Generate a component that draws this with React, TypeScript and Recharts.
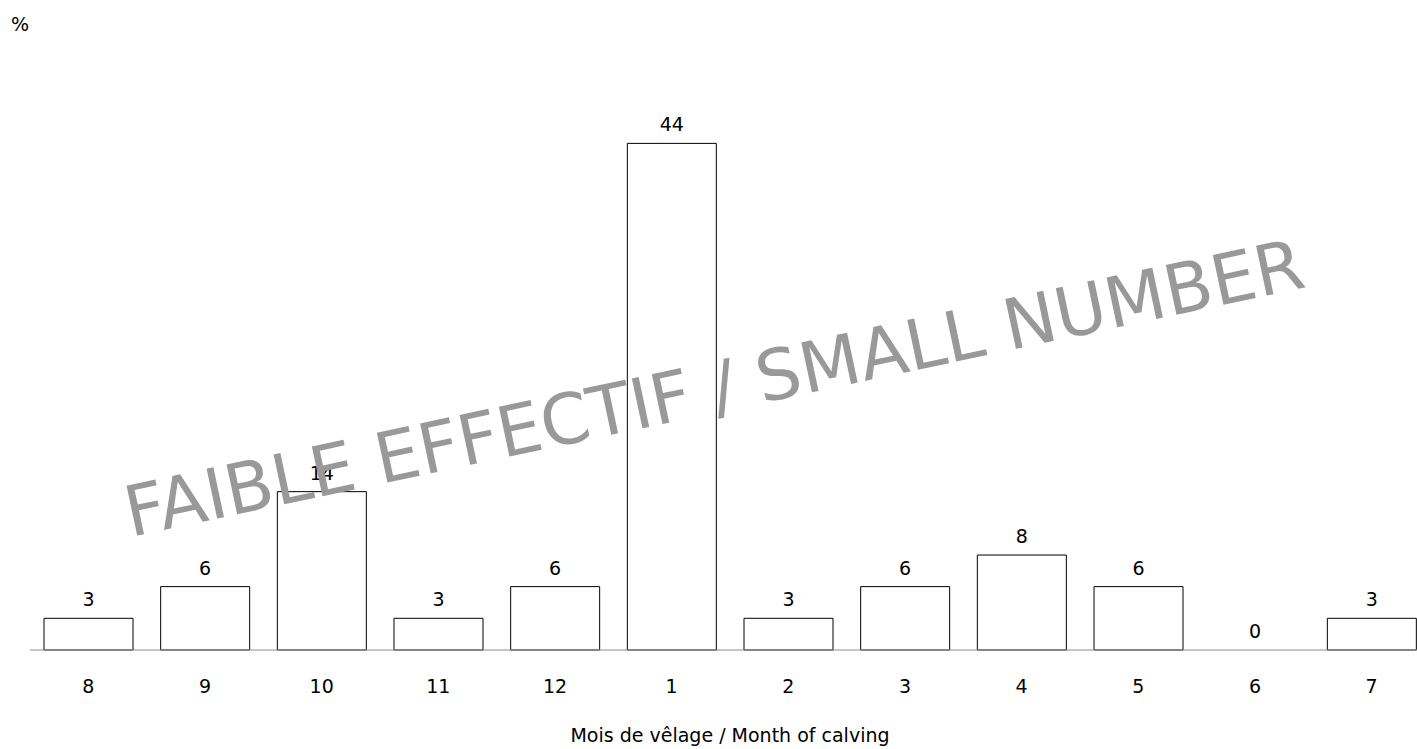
import React from 'react';
import { BarChart, Bar, XAxis, YAxis, LabelList, Cell } from 'recharts';

const months = ['8', '9', '10', '11', '12', '1', '2', '3', '4', '5', '6', '7'];
const percents = [2.78, 5.56, 13.89, 2.78, 5.56, 44.44, 2.78, 5.56, 8.33, 5.56, 0, 2.78];
const yDomain = [0, 50];
const unitLabel = '%';
const xTitle = 'Mois de vêlage / Month of calving';
const watermark = 'FAIBLE EFFECTIF / SMALL NUMBER';

const data = months.map((m, i) => ({ month: m, v: percents[i] }));

const FONT = '"DejaVu Sans", sans-serif';

export default function App() {
  return (
    <div style={{ position: 'absolute', left: 0, top: 0, width: 1417, height: 749, overflow: 'hidden', background: '#fff' }}>
      <BarChart
        width={1440}
        height={749}
        data={data}
        margin={{ top: 80, right: 10, bottom: 0, left: 30 }}
        barCategoryGap="12%"
      >
        <YAxis hide domain={yDomain} />
        <XAxis
          dataKey="month"
          height={99}
          axisLine={{ stroke: '#8c8c8c', strokeWidth: 1 }}
          tickLine={false}
          tickMargin={24}
          tick={{ fontFamily: FONT, fontSize: 19, fill: '#000' }}
          interval={0}
          label={{ value: xTitle, position: 'insideBottom', offset: 7, fontFamily: FONT, fontSize: 19, fill: '#000' }}
        />
        <Bar
          dataKey="v"
          fill="#ffffff"
          stroke="#000000"
          strokeWidth={1}
          minPointSize={(value: number) => (value === 0 ? 0.01 : 0)}
          isAnimationActive={false}
        >
          {data.map((d, i) => (
            <Cell key={i} stroke={d.v === 0 ? 'none' : '#000000'} />
          ))}
          <LabelList
            dataKey="v"
            position="top"
            offset={12}
            formatter={(v: number) => String(Math.round(v))}
            style={{ fontFamily: FONT, fontSize: 19, fill: '#000' }}
          />
        </Bar>
      </BarChart>
      <svg
        width={1417}
        height={749}
        style={{ position: 'absolute', left: 0, top: 0, pointerEvents: 'none' }}
      >
        <text x={20} y={31} textAnchor="middle" fontFamily={FONT} fontSize={19} fill="#000">
          {unitLabel}
        </text>
        <text
          x={0}
          y={0}
          transform="translate(719,412) rotate(-12)"
          textAnchor="middle"
          fontFamily={FONT}
          fontSize={70}
          fill="#999999"
        >
          {watermark}
        </text>
      </svg>
    </div>
  );
}
